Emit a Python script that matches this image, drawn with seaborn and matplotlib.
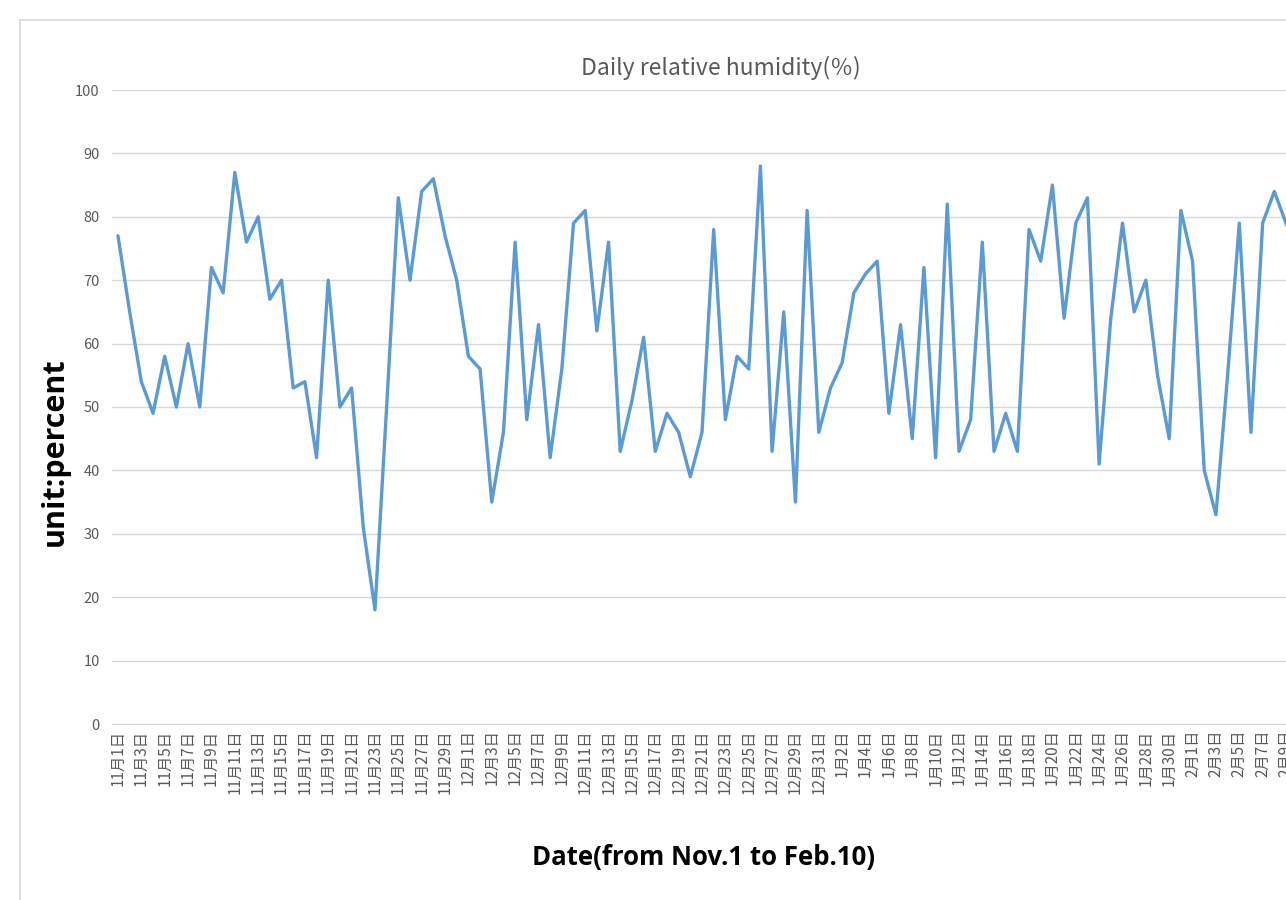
import pandas as pd
import numpy as np
import matplotlib.pyplot as plt
import matplotlib.lines as mlines
import seaborn as sns

# daily relative humidity, Nov.1 -> Feb.10
nov = [77, 65, 54, 49, 58, 50, 60, 50, 72, 68,
       87, 76, 80, 67, 70, 53, 54, 42, 70, 50,
       53, 31, 18, 50, 83, 70, 84, 86, 77, 70]
dec = [58, 56, 35, 46, 76, 48, 63, 42, 56, 79,
       81, 62, 76, 43, 51, 61, 43, 49, 46, 39,
       46, 78, 48, 58, 56, 88, 43, 65, 35, 81, 46]
jan = [53, 57, 68, 71, 73, 49, 63, 45, 72, 42,
       82, 43, 48, 76, 43, 49, 43, 78, 73, 85,
       64, 79, 83, 41, 64, 79, 65, 70, 55, 45, 81]
feb = [73, 40, 33, 55, 79, 46, 79, 84, 79, 74]
months = [11, 12, 1, 2]
month_len = [len(nov), len(dec), len(jan), len(feb)]

humidity = nov + dec + jan + feb
labels = [f"{m}月{d}日" for m, n in zip(months, month_len) for d in range(1, n + 1)]
df = pd.DataFrame({"idx": np.arange(len(humidity)), "date": labels, "rh": humidity})

sns.set_style("white")
plt.rcParams['font.family'] = ['Noto Sans CJK SC', 'DejaVu Sans']

fig = plt.figure(figsize=(12.86, 9), dpi=100)
# plot area runs a bit past the right edge, like the cropped original
n = len(humidity)
step = 11.68
left_px = 118 - step / 2
ax = fig.add_axes([left_px / 1286, 1 - 724 / 900, n * step / 1286, 634 / 900])

sns.lineplot(data=df, x="idx", y="rh", ax=ax, color="#5b9bd5", linewidth=2.4)

ax.set_xlim(-0.5, n - 0.5)
ax.set_ylim(0, 100)
ax.set_yticks(range(0, 101, 10))
ax.grid(axis="y", color="#d9d9d9", linewidth=1)
ax.set_axisbelow(True)
for s in ["top", "right", "left"]:
    ax.spines[s].set_visible(False)
ax.spines["bottom"].set_color("#d9d9d9")

ax.set_xticks(df["idx"][::2])
ax.set_xticklabels(df["date"][::2], rotation=90, fontsize=11, color="#595959")
ax.tick_params(axis="y", labelsize=10.5, labelcolor="#595959", length=0, pad=9)
ax.tick_params(axis="x", length=0, pad=4)

ax.set_xlabel("")
ax.set_ylabel("")
fig.text(721 / 1286, 1 - 68 / 900, "Daily relative humidity(％)", ha="center", va="center",
         fontsize=16.5, color="#595959")
fig.text(55 / 1286, 1 - 452 / 900, "unit:percent", rotation=90, ha="center", va="center",
         fontsize=22, fontweight="bold", family="Open Sans", color="black")
fig.text(703 / 1286, 1 - 857 / 900, "Date(from Nov.1 to Feb.10)", ha="center", va="center",
         fontsize=18.5, fontweight="bold", family="Open Sans", color="black")

# chart area border (top and left visible)
fig.add_artist(mlines.Line2D([20 / 1286, 20 / 1286], [0, 1 - 20 / 900], color="#d9d9d9", lw=1.2))
fig.add_artist(mlines.Line2D([20 / 1286, 1], [1 - 20 / 900, 1 - 20 / 900], color="#d9d9d9", lw=1.2))

plt.savefig("out.png", dpi=100)
